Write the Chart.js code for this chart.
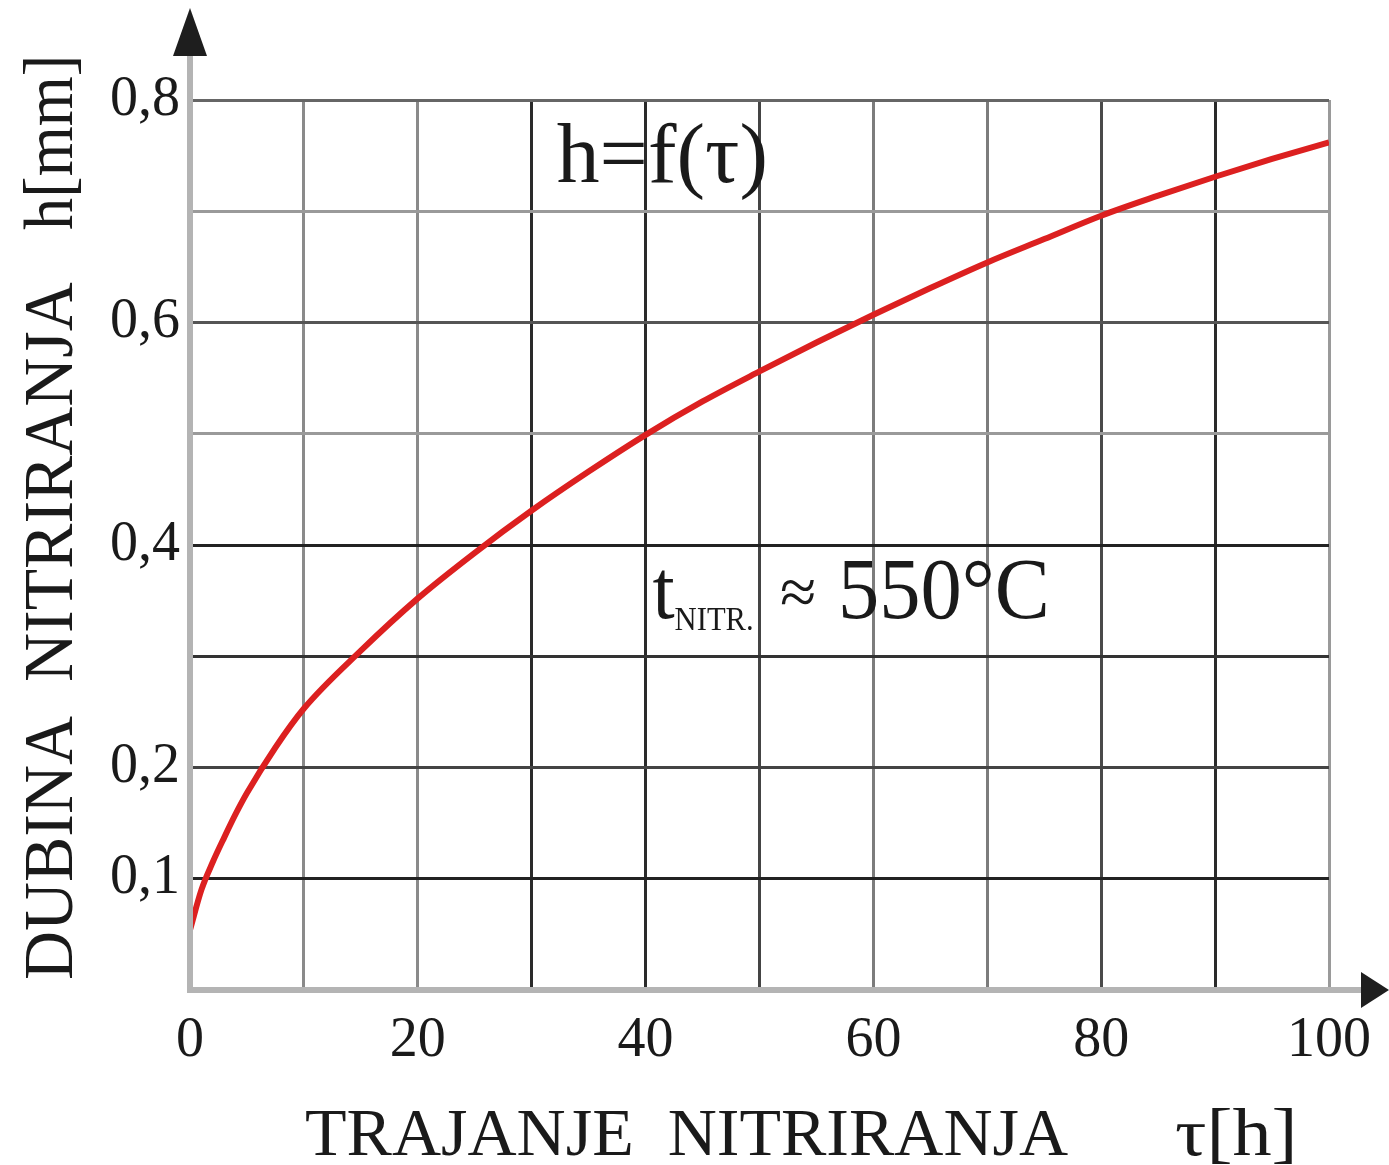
<!DOCTYPE html>
<html>
<head>
<meta charset="utf-8">
<script src="https://cdn.jsdelivr.net/npm/chart.js@4.4.1/dist/chart.umd.min.js"></script>
<style>
  html, body { margin: 0; padding: 0; background: #fff; }
  #wrap { width: 1389px; height: 1165px; }
</style>
</head>
<body>
<div id="wrap"><canvas id="myChart" width="1389" height="1165"></canvas></div>
<script>
// trajanje nitriranja tau [h]
const tauValues = [0, 1, 2, 3, 4, 5, 7.5, 10, 15, 20, 25, 30, 35, 40, 45, 50, 55, 60, 65, 70, 75, 80, 85, 90, 95, 100];
// dubina nitriranja h [mm]
const hValues = [0.054, 0.09, 0.115, 0.137, 0.158, 0.177, 0.218, 0.253, 0.305, 0.352, 0.393, 0.431, 0.466, 0.499, 0.529, 0.556, 0.582, 0.607, 0.631, 0.654, 0.675, 0.696, 0.714, 0.731, 0.747, 0.762];

const xLabelled = [0, 20, 40, 60, 80, 100];
const yLabelled = [0.1, 0.2, 0.4, 0.6, 0.8];

const X_MIN = 0, X_MAX = 100, Y_MIN = 0, Y_MAX = 0.8;

// boje mreze (original je skeniran pa linije nisu iste)
const xGridColors = ['#bcbcbc', '#8a8a8a', '#8a8a8a', '#2a2a2a', '#2a2a2a', '#444', '#7c7c7c', '#7c7c7c', '#4a4a4a', '#2a2a2a', '#9a9a9a'];
const yGridColors = ['#c4c4c4', '#222', '#444', '#333', '#222', '#9a9a9a', '#555', '#9a9a9a', '#666'];

const SERIF = '"Liberation Serif", "DejaVu Serif", serif';

const ctxt = document.getElementById('myChart').getContext('2d');

// tekst koji je uzi nego obican font
function condensedText(ctx, txt, x, y, size, sx, align) {
  ctx.save();
  ctx.font = size + 'px ' + SERIF;
  ctx.fillStyle = '#1a1a1a';
  ctx.textBaseline = 'alphabetic';
  ctx.translate(x, y);
  ctx.scale(sx, 1);
  ctx.textAlign = align || 'left';
  ctx.fillText(txt, 0, 0);
  const w = ctx.measureText(txt).width * sx;
  ctx.restore();
  return w;
}

const decorPlugin = {
  id: 'decor',
  afterDraw(chart) {
    const ctx = chart.ctx;
    const xs = chart.scales.x, ys = chart.scales.y;
    const x0 = xs.getPixelForValue(0), y0 = ys.getPixelForValue(0);

    // ose sa strelicama
    ctx.save();
    ctx.strokeStyle = '#b4b4b4';
    ctx.lineWidth = 6;
    ctx.beginPath();
    ctx.moveTo(x0, y0 + 3);
    ctx.lineTo(x0, 50);
    ctx.moveTo(x0 - 3, y0);
    ctx.lineTo(1365, y0);
    ctx.stroke();
    ctx.fillStyle = '#1e1e1e';
    ctx.beginPath();
    ctx.moveTo(x0, 8);
    ctx.lineTo(x0 - 17, 56);
    ctx.lineTo(x0 + 17, 56);
    ctx.closePath();
    ctx.fill();
    ctx.beginPath();
    ctx.moveTo(1389, y0);
    ctx.lineTo(1361, y0 - 18);
    ctx.lineTo(1361, y0 + 18);
    ctx.closePath();
    ctx.fill();
    ctx.restore();

    // naslov x ose
    condensedText(ctx, 'TRAJANJE  NITRIRANJA', 305, 1155, 68, 1.0);
    condensedText(ctx, '\u03C4[h]', 1175, 1155, 68, 1.15);

    // naslov y ose (rotiran)
    ctx.save();
    ctx.translate(72, 980);
    ctx.rotate(-Math.PI / 2);
    condensedText(ctx, 'DUBINA  NITRIRANJA', 0, 0, 70, 0.97);
    condensedText(ctx, 'h[mm]', 750, 0, 70, 0.92);
    ctx.restore();

    // natpisi u dijagramu
    const fx = xs.getPixelForValue(32.2), fy = ys.getPixelForValue(0.726);
    condensedText(ctx, 'h=f(\u03C4)', fx, fy, 84, 1.02);

    let tx = xs.getPixelForValue(40.6), ty = ys.getPixelForValue(0.334);
    let w = condensedText(ctx, 't', tx, ty, 84, 0.95);
    condensedText(ctx, 'NITR.', tx + w, ty + 12, 34, 0.9);
    condensedText(ctx, '\u2248', 780, ty - 4, 66, 1.0);
    condensedText(ctx, '550\u00B0C', 838, ty, 86, 0.96);
  }
};

const myChart = new Chart(ctxt, {
  type: 'line',
  data: {
    labels: tauValues,
    datasets: [{
      label: 'h=f(\u03C4)',
      data: tauValues.map((t, i) => ({ x: t, y: hValues[i] })),
      borderColor: '#dc2020',
      borderWidth: 6,
      pointRadius: 0,
      cubicInterpolationMode: 'monotone',
      fill: false
    }]
  },
  options: {
    responsive: false,
    animation: false,
    layout: { padding: { left: 0, top: 100, right: 59, bottom: 0 } },
    plugins: { legend: { display: false }, tooltip: { enabled: false } },
    scales: {
      x: {
        type: 'linear',
        min: X_MIN,
        max: X_MAX,
        border: { display: false },
        grid: {
          drawTicks: false,
          lineWidth: 3,
          color: (c) => xGridColors[Math.round(c.tick.value / 10)] || '#888'
        },
        ticks: {
          stepSize: 10,
          autoSkip: false,
          maxRotation: 0,
          padding: 18,
          color: '#1a1a1a',
          font: { family: SERIF, size: 56 },
          callback: (v) => xLabelled.includes(v) ? String(v) : ''
        },
        afterFit: (scale) => { scale.height = 175; }
      },
      y: {
        type: 'linear',
        min: Y_MIN,
        max: Y_MAX,
        border: { display: false },
        grid: {
          drawTicks: false,
          lineWidth: 3,
          color: (c) => yGridColors[Math.round(c.tick.value * 10)] || '#888'
        },
        ticks: {
          stepSize: 0.1,
          autoSkip: false,
          padding: 10,
          color: '#1a1a1a',
          font: { family: SERIF, size: 56 },
          callback: (v) => {
            const r = Math.round(v * 10) / 10;
            return yLabelled.includes(r) ? r.toFixed(1).replace('.', ',') : '';
          }
        },
        afterFit: (scale) => { scale.width = 190; }
      }
    }
  },
  plugins: [decorPlugin]
});
</script>
</body>
</html>
